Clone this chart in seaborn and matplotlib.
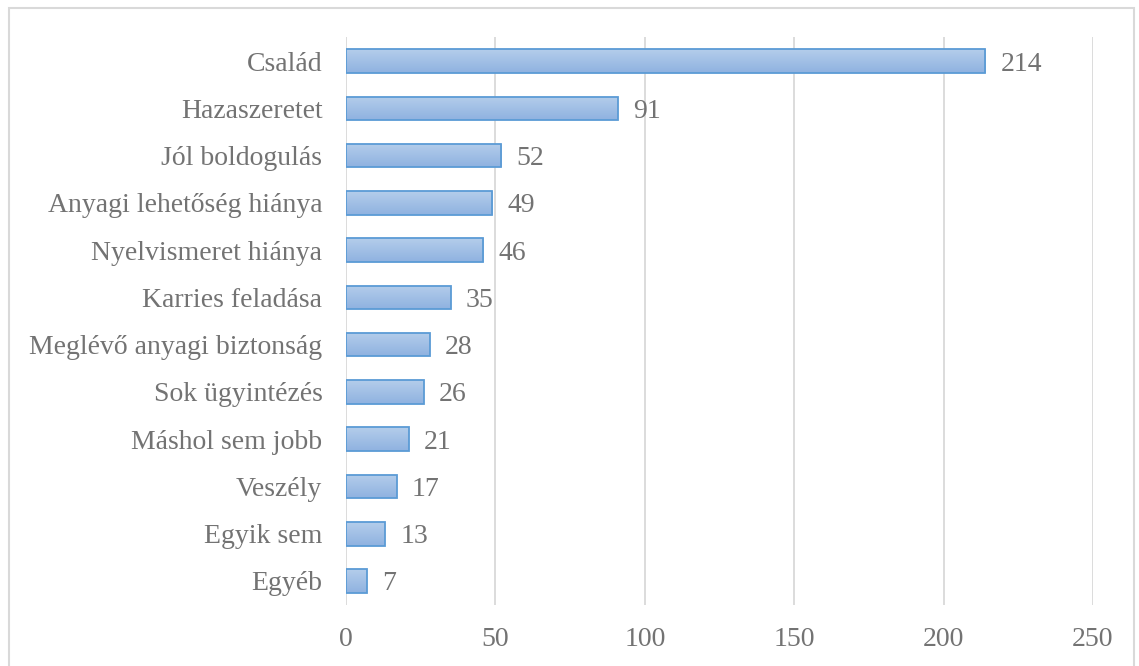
import numpy as np
import matplotlib
matplotlib.use("Agg")
import matplotlib.pyplot as plt
import matplotlib.patches as mpatches
from matplotlib.colors import to_rgb
import pandas as pd
import seaborn as sb


categories = ["Család", "Hazaszeretet", "Jól boldogulás", "Anyagi lehetőség hiánya",
              "Nyelvismeret hiánya", "Karries feladása", "Meglévő anyagi biztonság",
              "Sok ügyintézés", "Máshol sem jobb", "Veszély", "Egyik sem", "Egyéb"]
values = [214, 91, 52, 49, 46, 35, 28, 26, 21, 17, 13, 7]
x_ticks = [0, 50, 100, 150, 200, 250]

df = pd.DataFrame({"cat": categories, "val": values})

sb.set_style("white")
plt.rcParams["font.family"] = ["Liberation Serif", "DejaVu Serif"]
text_col = "#737373"

fig = plt.figure(figsize=(11.39, 6.66), dpi=100)
ax = fig.add_axes([0.3038, 0.0922, 0.6558, 0.8516])

# chart border
fig.patches.append(mpatches.Rectangle((9 / 1139, -0.05), 1125 / 1139, 1.05 - 8 / 666,
                                      transform=fig.transFigure, fill=False,
                                      edgecolor="#d9d9d9", linewidth=1.5))

sb.barplot(data=df, x="val", y="cat", orient="h", width=0.5,
           facecolor="none", edgecolor="#5b9bd5", linewidth=1.3, ax=ax)

ax.set_xlim(0, 250)
ylim = ax.get_ylim()

# gradient fill clipped to each bar
top_c = np.array(to_rgb("#b4cdeb"))
bot_c = np.array(to_rgb("#8fb2e0"))
grad = np.linspace(0, 1, 64)[:, None, None]
grad_img = (top_c * (1 - grad) + bot_c * grad)
for p in list(ax.patches):
    x0, y0, w, h = p.get_x(), p.get_y(), p.get_width(), p.get_height()
    im = ax.imshow(grad_img, extent=(x0, x0 + w, y0 + h, y0), origin="upper",
                   aspect="auto", zorder=2, interpolation="bilinear")
    im.set_clip_path(p)
    p.set_zorder(3)
ax.set_xlim(0, 250)
ax.set_ylim(ylim)

for c in ax.containers:
    labels = ax.bar_label(c, padding=11, fontsize=20, color=text_col)
    for t in labels:
        t.set_va("center_baseline")

ax.set_xticks(x_ticks)
ax.set_xticklabels([str(t) for t in x_ticks])
ax.xaxis.grid(True, color="#d9d9d9", linewidth=1.3)
ax.set_axisbelow(True)
ax.tick_params(axis="x", length=0, pad=16, labelsize=20, labelcolor=text_col)
ax.tick_params(axis="y", length=0, pad=17, labelsize=20, labelcolor=text_col)
ax.set_xlabel("")
ax.set_ylabel("")
for s in ax.spines.values():
    s.set_visible(False)

plt.savefig("out.png", dpi=100)
plt.close()
